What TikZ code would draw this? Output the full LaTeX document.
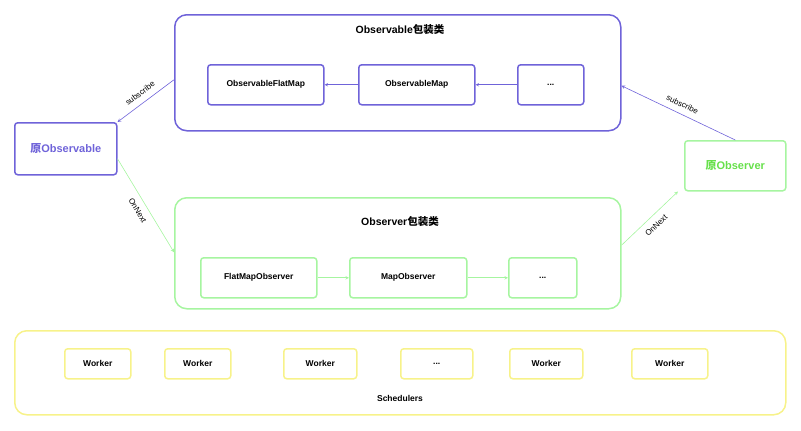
\documentclass[tikz,border=0pt]{standalone}
\usepackage{fontspec}
\setmainfont{Liberation Sans}
\newfontfamily\cjk{Noto Sans CJK SC}
\usetikzlibrary{arrows,positioning}
\definecolor{pur}{HTML}{6F63D9}
\definecolor{grn}{HTML}{A6F5A0}
\definecolor{grntxt}{HTML}{66E04A}
\definecolor{yel}{HTML}{F7F28A}
\tikzset{>=stealth,
  big/.style={draw,rounded corners=12pt,line width=1.5pt,anchor=north west,inner sep=0pt},
  box/.style={draw,rounded corners=3pt,line width=1.5pt,anchor=north west,inner sep=0pt,
    font=\bfseries\fontsize{8.5}{10}\selectfont,align=center},
  lbl/.style={font=\fontsize{8}{9}\selectfont,sloped,above}}

\begin{document}
\begin{tikzpicture}[x=1pt,y=-1pt]
    \useasboundingbox (0,0) rectangle (801,431);
    % observable side
    \node (top) [big,pur,minimum width=446,minimum height=116] at (174,14) {};
    \node (ttl) [font=\bfseries\fontsize{10.5}{12}\selectfont] at (400,30) {Observable{\cjk 包装类}};
    \node (ofm) [box,pur,text=black,minimum width=116,minimum height=40] at (207,64) {ObservableFlatMap};
    \node (om) [box,pur,text=black,minimum width=116,minimum height=40] at (358,64) {ObservableMap};
    \node (od) [box,pur,text=black,minimum width=66,minimum height=40] at (517,64) {...};
    \node (src) [box,pur,minimum width=102,minimum height=52,font=\bfseries\fontsize{11}{12}\selectfont] at (14,122) {{\cjk\bfseries 原}Observable};

    % observer side
    \node (mid) [big,grn,minimum width=446,minimum height=111] at (174,197) {};
    \node (ttl2) [font=\bfseries\fontsize{10.5}{12}\selectfont] at (400,222) {Observer{\cjk 包装类}};
    \node (fmo) [box,grn,text=black,minimum width=116,minimum height=40] at (200,257) {FlatMapObserver};
    \node (mo) [box,grn,text=black,minimum width=117,minimum height=40] at (349,257) {MapObserver};
    \node (md) [box,grn,text=black,minimum width=68,minimum height=40] at (508,257) {...};
    \node (dst) [box,grn,text=grntxt,minimum width=101,minimum height=50,font=\bfseries\fontsize{11}{12}\selectfont] at (684,140) {{\cjk\bfseries 原}Observer};

    % schedulers
    \node (sch) [big,yel,minimum width=771,minimum height=84] at (14,330) {};
    \node (schl) [font=\bfseries\fontsize{8.5}{10}\selectfont] at (400,398) {Schedulers};
    \foreach \n/\x/\w/\t in {w1/64/66/{Worker},w2/164/66/{Worker},w3/283/73/{Worker},w4/400/72/{.{}.{}.},w5/509/73/{Worker},w6/631/76/{Worker}}
      \node (\n) [box,yel,text=black,minimum width=\w,minimum height=30] at (\x,348) {\t};

    \draw[->,pur,semithick] (od) -- (om);
    \draw[->,pur,semithick] (om) -- (ofm);
    \draw[->,grn,semithick] (fmo) -- (mo);
    \draw[->,grn,semithick] (mo) -- (md);

    \draw[->,pur,semithick] ([yshift=-7]top.west) -- node[lbl,text=black,yshift=3] {subscribe} (src.north east);
    \draw[->,pur,semithick] (dst.north) -- node[lbl,text=black,yshift=3] {subscribe} ([yshift=-13]top.east);
    \draw[->,grn,semithick] ([yshift=-10]src.east) -- node[lbl,text=black,below,yshift=-3] {OnNext} ([yshift=1]mid.west);
    \draw[->,grn,semithick] ([yshift=8]mid.east) -- node[lbl,text=black,below,yshift=-3] {OnNext} ([xshift=-6]dst.south west);
  \end{tikzpicture}
\end{document}
